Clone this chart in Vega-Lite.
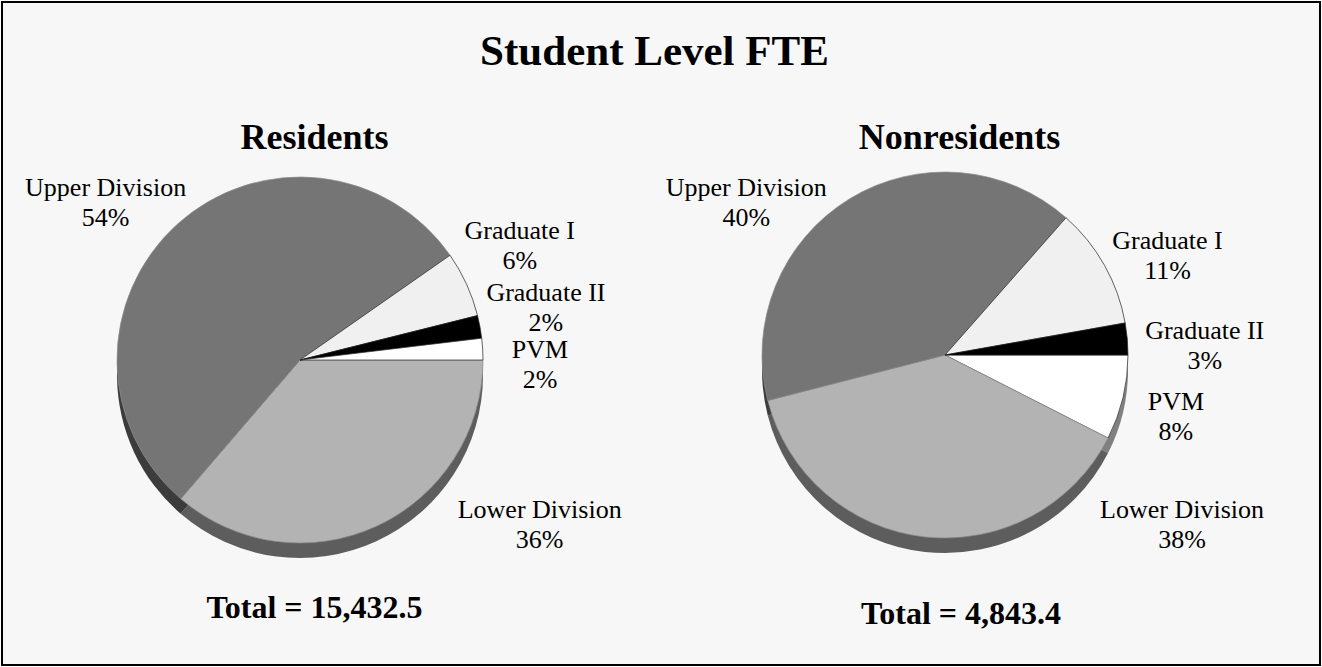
{
  "$schema": "https://vega.github.io/schema/vega-lite/v6.json",
  "width": 1322,
  "height": 667,
  "autosize": {"type": "fit", "contains": "padding"},
  "padding": 2,
  "background": "white",
  "config": {
    "view": {"stroke": "#000000", "strokeWidth": 2, "fill": "#f7f7f7"},
    "text": {"font": "Liberation Serif", "color": "#000000"}
  },
  "datasets": {
    "slices": [
      {"group": "Residents", "category": "Lower Division", "pct": 36.3, "k": 0, "label": "Lower Division\n36%"},
      {"group": "Residents", "category": "Upper Division", "pct": 54.0, "k": 1, "label": "Upper Division\n54%"},
      {"group": "Residents", "category": "Graduate I", "pct": 5.8, "k": 2, "label": "Graduate I\n6%"},
      {"group": "Residents", "category": "Graduate II", "pct": 2.0, "k": 3, "label": "Graduate II\n2%"},
      {"group": "Residents", "category": "PVM", "pct": 1.9, "k": 4, "label": "PVM\n2%"},
      {"group": "Nonresidents", "category": "PVM", "pct": 7.5, "k": 0, "label": "PVM\n8%"},
      {"group": "Nonresidents", "category": "Lower Division", "pct": 38.5, "k": 1, "label": "Lower Division\n38%"},
      {"group": "Nonresidents", "category": "Upper Division", "pct": 40.5, "k": 2, "label": "Upper Division\n40%"},
      {"group": "Nonresidents", "category": "Graduate I", "pct": 10.7, "k": 3, "label": "Graduate I\n11%"},
      {"group": "Nonresidents", "category": "Graduate II", "pct": 2.8, "k": 4, "label": "Graduate II\n3%"}
    ],
    "groups": [
      {"group": "Residents", "total": "Total = 15,432.5"},
      {"group": "Nonresidents", "total": "Total = 4,843.4"}
    ],
    "heading": [{"title": "Student Level FTE"}]
  },
  "layer": [
    {
      "data": {"name": "heading"},
      "mark": {"type": "text", "fontSize": 43, "fontWeight": "bold", "align": "center", "baseline": "alphabetic", "dx": -6.5, "yOffset": -268.5},
      "encoding": {"text": {"field": "title"}}
    },
    {
      "data": {"name": "groups"},
      "mark": {"type": "text", "fontSize": 36, "fontWeight": "bold", "align": "center", "baseline": "alphabetic", "dx": 14.5, "yOffset": -184.5},
      "encoding": {
        "x": {"field": "group", "type": "nominal", "sort": ["Residents", "Nonresidents"], "scale": {"type": "point", "padding": 0.5217, "align": 0.4428}, "axis": null},
        "text": {"field": "group"}
      }
    },
    {
      "data": {"name": "groups"},
      "transform": [{"filter": "datum.group === 'Residents'"}],
      "mark": {"type": "text", "fontSize": 32, "fontWeight": "bold", "align": "center", "baseline": "alphabetic", "dx": 14.5, "yOffset": 284.5},
      "encoding": {
        "x": {"field": "group", "type": "nominal", "sort": ["Residents", "Nonresidents"], "scale": {"type": "point", "padding": 0.5217, "align": 0.4428}, "axis": null},
        "text": {"field": "total"}
      }
    },
    {
      "data": {"name": "groups"},
      "transform": [{"filter": "datum.group === 'Nonresidents'"}],
      "mark": {"type": "text", "fontSize": 32, "fontWeight": "bold", "align": "center", "baseline": "alphabetic", "dx": 16, "yOffset": 290},
      "encoding": {
        "x": {"field": "group", "type": "nominal", "sort": ["Residents", "Nonresidents"], "scale": {"type": "point", "padding": 0.5217, "align": 0.4428}, "axis": null},
        "text": {"field": "total"}
      }
    },
    {
      "data": {"name": "slices"},
      "transform": [{"filter": "datum.group === 'Residents'"}],
      "mark": {"type": "arc", "radius": 183, "yOffset": 41.5},
      "encoding": {
        "x": {"field": "group", "type": "nominal", "sort": ["Residents", "Nonresidents"], "scale": {"type": "point", "padding": 0.5217, "align": 0.4428}, "axis": null},
        "theta": {"field": "pct", "type": "quantitative", "stack": "normalize", "scale": {"range": [1.5708, 7.854]}},
        "order": {"field": "k", "type": "quantitative"},
        "fill": {"condition": [{"test": "datum.category === 'Upper Division'", "value": "#3c3c3c"}, {"test": "datum.category === 'Lower Division'", "value": "#5d5d5d"}], "value": "#808080"}
      }
    },
    {
      "data": {"name": "slices"},
      "transform": [{"filter": "datum.group === 'Nonresidents'"}],
      "mark": {"type": "arc", "radius": 183, "yOffset": 36.5},
      "encoding": {
        "x": {"field": "group", "type": "nominal", "sort": ["Residents", "Nonresidents"], "scale": {"type": "point", "padding": 0.5217, "align": 0.4428}, "axis": null},
        "theta": {"field": "pct", "type": "quantitative", "stack": "normalize", "scale": {"range": [1.5708, 7.854]}},
        "order": {"field": "k", "type": "quantitative"},
        "fill": {"condition": [{"test": "datum.category === 'Upper Division'", "value": "#3c3c3c"}, {"test": "datum.category === 'Lower Division'", "value": "#5d5d5d"}], "value": "#808080"}
      }
    },
    {
      "data": {"name": "slices"},
      "transform": [{"filter": "datum.group === 'Residents'"}],
      "mark": {"type": "arc", "radius": 183, "yOffset": 26.5, "strokeWidth": 0.7},
      "encoding": {
        "x": {"field": "group", "type": "nominal", "sort": ["Residents", "Nonresidents"], "scale": {"type": "point", "padding": 0.5217, "align": 0.4428}, "axis": null},
        "theta": {"field": "pct", "type": "quantitative", "stack": "normalize", "scale": {"range": [1.5708, 7.854]}},
        "order": {"field": "k", "type": "quantitative"},
        "color": {"field": "category", "type": "nominal", "scale": {"domain": ["Upper Division", "Lower Division", "Graduate I", "Graduate II", "PVM"], "range": ["#757575", "#b3b3b3", "#f0f0f0", "#000000", "#ffffff"]}, "legend": null},
        "stroke": {"condition": {"test": "datum.category === 'Upper Division' || datum.category === 'Lower Division'", "value": "#8c8c8c"}, "value": "#222222"}
      }
    },
    {
      "data": {"name": "slices"},
      "transform": [{"filter": "datum.group === 'Nonresidents'"}],
      "mark": {"type": "arc", "radius": 183, "yOffset": 21.5, "strokeWidth": 0.7},
      "encoding": {
        "x": {"field": "group", "type": "nominal", "sort": ["Residents", "Nonresidents"], "scale": {"type": "point", "padding": 0.5217, "align": 0.4428}, "axis": null},
        "theta": {"field": "pct", "type": "quantitative", "stack": "normalize", "scale": {"range": [1.5708, 7.854]}},
        "order": {"field": "k", "type": "quantitative"},
        "color": {"field": "category", "type": "nominal", "scale": {"domain": ["Upper Division", "Lower Division", "Graduate I", "Graduate II", "PVM"], "range": ["#757575", "#b3b3b3", "#f0f0f0", "#000000", "#ffffff"]}, "legend": null},
        "stroke": {"condition": {"test": "datum.category === 'Upper Division' || datum.category === 'Lower Division'", "value": "#8c8c8c"}, "value": "#222222"}
      }
    },
    {
      "data": {"name": "slices"},
      "transform": [{"filter": "datum.group === 'Residents'"}],
      "mark": {"type": "text", "radius": 289, "yOffset": 26.5, "dy": -12, "fontSize": 26, "lineHeight": 30, "lineBreak": "\n", "align": "center", "baseline": "middle"},
      "encoding": {
        "x": {"field": "group", "type": "nominal", "sort": ["Residents", "Nonresidents"], "scale": {"type": "point", "padding": 0.5217, "align": 0.4428}, "axis": null},
        "theta": {"field": "pct", "type": "quantitative", "stack": "normalize", "bandPosition": 0.26, "scale": {"range": [1.5708, 7.854]}},
        "order": {"field": "k", "type": "quantitative"},
        "text": {"condition": {"test": "datum.category === 'Lower Division'", "field": "label"}, "value": ""}
      }
    },
    {
      "data": {"name": "slices"},
      "transform": [{"filter": "datum.group === 'Residents'"}],
      "mark": {"type": "text", "radius": 252, "yOffset": 26.5, "dy": -12, "fontSize": 26, "lineHeight": 30, "lineBreak": "\n", "align": "center", "baseline": "middle"},
      "encoding": {
        "x": {"field": "group", "type": "nominal", "sort": ["Residents", "Nonresidents"], "scale": {"type": "point", "padding": 0.5217, "align": 0.4428}, "axis": null},
        "theta": {"field": "pct", "type": "quantitative", "stack": "normalize", "bandPosition": 0.457, "scale": {"range": [1.5708, 7.854]}},
        "order": {"field": "k", "type": "quantitative"},
        "text": {"condition": {"test": "datum.category === 'Upper Division'", "field": "label"}, "value": ""}
      }
    },
    {
      "data": {"name": "slices"},
      "transform": [{"filter": "datum.group === 'Residents'"}],
      "mark": {"type": "text", "radius": 249, "yOffset": 26.5, "dy": -12, "fontSize": 26, "lineHeight": 30, "lineBreak": "\n", "align": "center", "baseline": "middle"},
      "encoding": {
        "x": {"field": "group", "type": "nominal", "sort": ["Residents", "Nonresidents"], "scale": {"type": "point", "padding": 0.5217, "align": 0.4428}, "axis": null},
        "theta": {"field": "pct", "type": "quantitative", "stack": "normalize", "bandPosition": 0.33, "scale": {"range": [1.5708, 7.854]}},
        "order": {"field": "k", "type": "quantitative"},
        "text": {"condition": {"test": "datum.category === 'Graduate I'", "field": "label"}, "value": ""}
      }
    },
    {
      "data": {"name": "slices"},
      "transform": [{"filter": "datum.group === 'Residents'"}],
      "mark": {"type": "text", "radius": 252, "yOffset": 26.5, "dy": -12, "fontSize": 26, "lineHeight": 30, "lineBreak": "\n", "align": "center", "baseline": "middle"},
      "encoding": {
        "x": {"field": "group", "type": "nominal", "sort": ["Residents", "Nonresidents"], "scale": {"type": "point", "padding": 0.5217, "align": 0.4428}, "axis": null},
        "theta": {"field": "pct", "type": "quantitative", "stack": "normalize", "bandPosition": 0.2, "scale": {"range": [1.5708, 7.854]}},
        "order": {"field": "k", "type": "quantitative"},
        "text": {"condition": {"test": "datum.category === 'Graduate II'", "field": "label"}, "value": ""}
      }
    },
    {
      "data": {"name": "slices"},
      "transform": [{"filter": "datum.group === 'Residents'"}],
      "mark": {"type": "text", "radius": 240, "yOffset": 26.5, "dy": -9, "fontSize": 26, "lineHeight": 30, "lineBreak": "\n", "align": "center", "baseline": "middle"},
      "encoding": {
        "x": {"field": "group", "type": "nominal", "sort": ["Residents", "Nonresidents"], "scale": {"type": "point", "padding": 0.5217, "align": 0.4428}, "axis": null},
        "theta": {"field": "pct", "type": "quantitative", "stack": "normalize", "bandPosition": 0.98, "scale": {"range": [1.5708, 7.854]}},
        "order": {"field": "k", "type": "quantitative"},
        "text": {"condition": {"test": "datum.category === 'PVM'", "field": "label"}, "value": ""}
      }
    },
    {
      "data": {"name": "slices"},
      "transform": [{"filter": "datum.group === 'Nonresidents'"}],
      "mark": {"type": "text", "radius": 290, "yOffset": 21.5, "dy": -12, "fontSize": 26, "lineHeight": 30, "lineBreak": "\n", "align": "center", "baseline": "middle"},
      "encoding": {
        "x": {"field": "group", "type": "nominal", "sort": ["Residents", "Nonresidents"], "scale": {"type": "point", "padding": 0.5217, "align": 0.4428}, "axis": null},
        "theta": {"field": "pct", "type": "quantitative", "stack": "normalize", "bandPosition": 0.059, "scale": {"range": [1.5708, 7.854]}},
        "order": {"field": "k", "type": "quantitative"},
        "text": {"condition": {"test": "datum.category === 'Lower Division'", "field": "label"}, "value": ""}
      }
    },
    {
      "data": {"name": "slices"},
      "transform": [{"filter": "datum.group === 'Nonresidents'"}],
      "mark": {"type": "text", "radius": 252, "yOffset": 21.5, "dy": -12, "fontSize": 26, "lineHeight": 30, "lineBreak": "\n", "align": "center", "baseline": "middle"},
      "encoding": {
        "x": {"field": "group", "type": "nominal", "sort": ["Residents", "Nonresidents"], "scale": {"type": "point", "padding": 0.5217, "align": 0.4428}, "axis": null},
        "theta": {"field": "pct", "type": "quantitative", "stack": "normalize", "bandPosition": 0.359, "scale": {"range": [1.5708, 7.854]}},
        "order": {"field": "k", "type": "quantitative"},
        "text": {"condition": {"test": "datum.category === 'Upper Division'", "field": "label"}, "value": ""}
      }
    },
    {
      "data": {"name": "slices"},
      "transform": [{"filter": "datum.group === 'Nonresidents'"}],
      "mark": {"type": "text", "radius": 245, "yOffset": 21.5, "dy": -12, "fontSize": 26, "lineHeight": 30, "lineBreak": "\n", "align": "center", "baseline": "middle"},
      "encoding": {
        "x": {"field": "group", "type": "nominal", "sort": ["Residents", "Nonresidents"], "scale": {"type": "point", "padding": 0.5217, "align": 0.4428}, "axis": null},
        "theta": {"field": "pct", "type": "quantitative", "stack": "normalize", "bandPosition": 0.62, "scale": {"range": [1.5708, 7.854]}},
        "order": {"field": "k", "type": "quantitative"},
        "text": {"condition": {"test": "datum.category === 'Graduate I'", "field": "label"}, "value": ""}
      }
    },
    {
      "data": {"name": "slices"},
      "transform": [{"filter": "datum.group === 'Nonresidents'"}],
      "mark": {"type": "text", "radius": 260, "yOffset": 21.5, "dy": -12, "fontSize": 26, "lineHeight": 30, "lineBreak": "\n", "align": "center", "baseline": "middle"},
      "encoding": {
        "x": {"field": "group", "type": "nominal", "sort": ["Residents", "Nonresidents"], "scale": {"type": "point", "padding": 0.5217, "align": 0.4428}, "axis": null},
        "theta": {"field": "pct", "type": "quantitative", "stack": "normalize", "bandPosition": 0.74, "scale": {"range": [1.5708, 7.854]}},
        "order": {"field": "k", "type": "quantitative"},
        "text": {"condition": {"test": "datum.category === 'Graduate II'", "field": "label"}, "value": ""}
      }
    },
    {
      "data": {"name": "slices"},
      "transform": [{"filter": "datum.group === 'Nonresidents'"}],
      "mark": {"type": "text", "radius": 238, "yOffset": 21.5, "dy": -11, "fontSize": 26, "lineHeight": 30, "lineBreak": "\n", "align": "center", "baseline": "middle"},
      "encoding": {
        "x": {"field": "group", "type": "nominal", "sort": ["Residents", "Nonresidents"], "scale": {"type": "point", "padding": 0.5217, "align": 0.4428}, "axis": null},
        "theta": {"field": "pct", "type": "quantitative", "stack": "normalize", "bandPosition": 0.52, "scale": {"range": [1.5708, 7.854]}},
        "order": {"field": "k", "type": "quantitative"},
        "text": {"condition": {"test": "datum.category === 'PVM'", "field": "label"}, "value": ""}
      }
    }
  ]
}
